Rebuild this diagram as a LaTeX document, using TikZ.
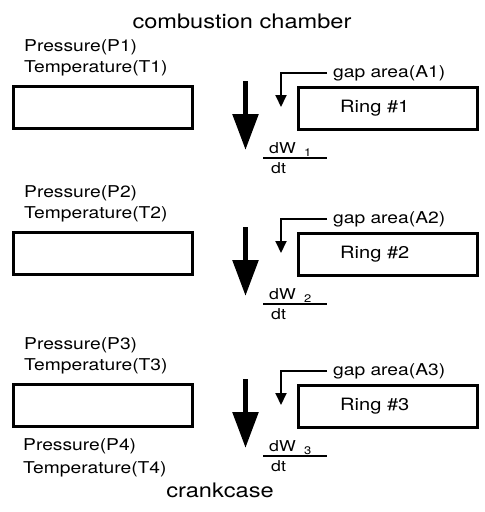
\documentclass[tikz,border=0pt]{standalone}
\usepackage{fontspec}
\newfontfamily\helv[FakeStretch=1.18]{TeX Gyre Heros}
\usetikzlibrary{arrows.meta, calc}

\tikzset{
  lbl/.style={font=\helv\fontsize{16.3}{18}\selectfont, inner sep=0pt, anchor=base west},
  heading/.style={font=\helv\fontsize{20}{24}\selectfont, inner sep=0pt, anchor=base},
  ringlbl/.style={font=\helv\fontsize{17}{20}\selectfont, inner sep=0pt, anchor=base west},
  fraclbl/.style={font=\helv\fontsize{15}{17}\selectfont, inner sep=0pt, anchor=base west},
  sublbl/.style={font=\helv\fontsize{11}{12}\selectfont, inner sep=0pt, anchor=base west},
  plate/.style={draw, line width=3pt, minimum width=179pt, minimum height=42pt, inner sep=0pt},
  flow/.style={line width=5.5pt, -{Triangle[width=25pt,length=36pt]}},
  gapline/.style={line width=1.9pt, -{Triangle[width=11pt,length=12pt]}},
}

\begin{document}
\begin{tikzpicture}[x=1pt,y=-1pt,line join=miter]
\path[use as bounding box] (0,0) rectangle (485,512);

\node[heading] (top) at (242,28) {combustion chamber};

% one block per ring
\foreach \i/\dy in {1/0,2/146,3/298}{
  \begin{scope}[shift={(0,\dy)}]
  \node[lbl] (p\i) at (24,51) {Pressure(P\i)};
  \node[lbl] (t\i) at (24,72) {Temperature(T\i)};
  \node[plate] (land\i) at (102.5,107) {};
  \node[plate] (ring\i) at (387.5,108) {};
  \node[ringlbl] (rl\i) at (340,112) {Ring \#\i};

  \coordinate (fs\i) at (245.5,81);
  \coordinate (fe\i) at (245.5,150);
  \draw[flow] (fs\i) -- (fe\i);

  \node[lbl] (gap\i) at (333,77) {gap area(A\i)};
  \coordinate (gt\i) at (281,107);
  \draw[gapline] ([xshift=-6pt]gap\i.west) -| (gt\i);

  \node[fraclbl] (dw\i) at (269,153) {dW};
  \node[sublbl] (sub\i) at (304,156) {\i};
  \coordinate (fl\i) at (263,158);
  \coordinate (fr\i) at (327,158);
  \draw[line width=1.4pt] (fl\i) -- (fr\i);
  \node[fraclbl] (dt\i) at (271,173) {dt};
  \end{scope}
}

\node[lbl] (p4) at (23,450) {Pressure(P4)};
\node[lbl] (t4) at (23,473) {Temperature(T4)};

\node[heading] (bottom) at (220,497) {crankcase};
\end{tikzpicture}
\end{document}
